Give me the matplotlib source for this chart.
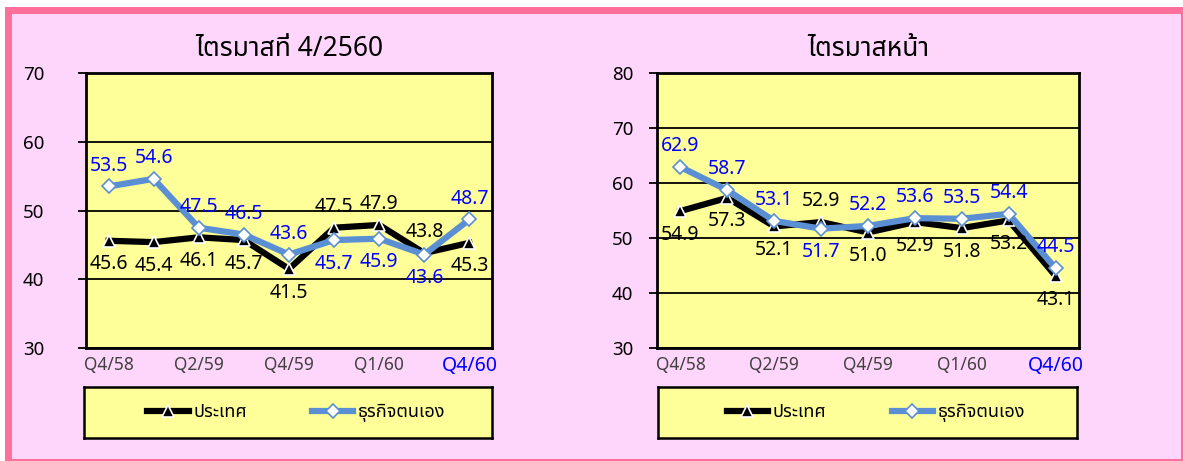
import matplotlib
matplotlib.use("Agg")
import matplotlib.pyplot as plt
from matplotlib.patches import Rectangle

plt.rcParams['font.family'] = ['Noto Sans Thai', 'DejaVu Sans']

# ข้อมูล
quarters = ['Q4/58', 'Q1/59', 'Q2/59', 'Q3/59', 'Q4/59', 'Q1/60', 'Q2/60', 'Q3/60', 'Q4/60']
tick_idx = [0, 2, 4, 6, 8]
tick_labels = ['Q4/58', 'Q2/59', 'Q4/59', 'Q1/60', 'Q4/60']

# ไตรมาสที่ 4/2560
now_country = [45.6, 45.4, 46.1, 45.7, 41.5, 47.5, 47.9, 43.8, 45.3]
now_business = [53.5, 54.6, 47.5, 46.5, 43.6, 45.7, 45.9, 43.6, 48.7]
now_country_pos = ['b', 'b', 'b', 'b', 'b', 't', 't', 't', 'b']
now_business_pos = ['t', 't', 't', 't', 't', 'b', 'b', 'b', 't']

# ไตรมาสหน้า
next_country = [54.9, 57.3, 52.1, 52.9, 51.0, 52.9, 51.8, 53.2, 43.1]
next_business = [62.9, 58.7, 53.1, 51.7, 52.2, 53.6, 53.5, 54.4, 44.5]
next_country_pos = ['b', 'b', 'b', 't', 'b', 'b', 'b', 'b', 'b']
next_business_pos = ['t', 't', 't', 'b', 't', 't', 't', 't', 't']

W, H = 1183, 461
YELLOW = '#FFFF99'
BLUE_LINE = '#5B8FD3'
LABEL_BLUE = '#0000FF'

fig = plt.figure(figsize=(W / 100, H / 100), dpi=100, facecolor='white')

# กรอบสีชมพู
fig.patches.append(Rectangle((5 / W, 0), 1 - 5 / W, 1 - 7 / H, transform=fig.transFigure,
                             facecolor='#FF6F9C', edgecolor='none', zorder=-10))
fig.patches.append(Rectangle((12 / W, 2 / H), 1 - 14 / W, 1 - 16 / H, transform=fig.transFigure,
                             facecolor='#FFD6FB', edgecolor='none', zorder=-9))


def draw_panel(rect, leg_rect, title, country, business, cpos, bpos, ylim, ypad):
    ax = fig.add_axes(rect)
    ax.set_facecolor(YELLOW)
    x = list(range(len(quarters)))
    l1, = ax.plot(x, country, color='black', lw=4.5, marker='^', ms=8.5,
                  markerfacecolor='black', markeredgecolor='white', mew=1.2, zorder=3)
    l2, = ax.plot(x, business, color=BLUE_LINE, lw=4.5, marker='D', ms=7,
                  markerfacecolor='white', markeredgecolor=BLUE_LINE, mew=1.2, zorder=4)
    for vals, pos, col in [(country, cpos, 'black'), (business, bpos, LABEL_BLUE)]:
        for i, v in enumerate(vals):
            dy = 15 if pos[i] == 't' else -17
            ax.annotate('%.1f' % v, (i, v), xytext=(0, dy), textcoords='offset points',
                        ha='center', va='center', fontsize=14, color=col, zorder=5)
    ax.set_xlim(-0.5, len(quarters) - 0.5)
    ax.set_ylim(*ylim)
    ax.set_yticks(range(ylim[0], ylim[1] + 1, 10))
    ax.yaxis.grid(True, color='black', lw=1.3)
    ax.set_axisbelow(True)
    ax.tick_params(axis='y', length=6, width=1.3, pad=ypad, labelsize=13.5, colors='black')
    ax.set_xticks(tick_idx)
    ax.set_xticklabels(tick_labels)
    ax.tick_params(axis='x', length=0, pad=6, labelsize=12.5, labelcolor='#404040')
    last = ax.get_xticklabels()[-1]
    last.set_color(LABEL_BLUE)
    last.set_fontsize(14)
    last.set_fontweight('bold')
    for s in ax.spines.values():
        s.set_linewidth(2)
    ax.set_title(title, fontsize=19, pad=12, fontweight='bold')

    lax = fig.add_axes(leg_rect)
    lax.set_facecolor(YELLOW)
    lax.set_xticks([])
    lax.set_yticks([])
    for s in lax.spines.values():
        s.set_linewidth(1.8)
    lax.legend([l1, l2], ['ประเทศ', 'ธุรกิจตนเอง'], loc='center', ncol=2, frameon=False,
               fontsize=13, handlelength=2.3, handletextpad=0.25, columnspacing=3.6,
               bbox_to_anchor=(0.52, 0.5))


draw_panel([86 / W, 113 / H, 406 / W, 275 / H], [84 / W, 23 / H, 408 / W, 51 / H],
           'ไตรมาสที่ 4/2560', now_country, now_business,
           now_country_pos, now_business_pos, (30, 70), 24)
draw_panel([657 / W, 113 / H, 422 / W, 275 / H], [658 / W, 23 / H, 419 / W, 51 / H],
           'ไตรมาสหน้า', next_country, next_business,
           next_country_pos, next_business_pos, (30, 80), 11)

fig.savefig('out.png', dpi=100, facecolor=fig.get_facecolor())
